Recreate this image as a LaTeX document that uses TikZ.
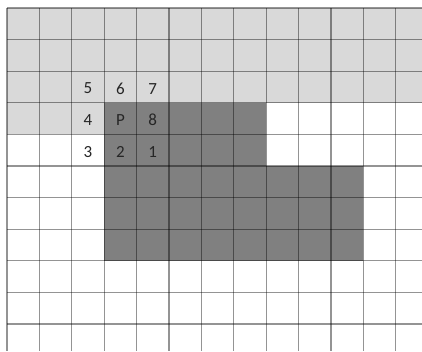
\documentclass[tikz,border=0pt]{standalone}
\usepackage{fontspec}
\setmainfont{Carlito}
\definecolor{lightcell}{HTML}{D9D9D9}
\definecolor{darkcell}{HTML}{808080}
\definecolor{numtext}{HTML}{262626}
\tikzset{
  cellnum/.style={font=\fontsize{17}{17}\selectfont, text=numtext, inner sep=0pt, anchor=center},
  gridline/.style={draw=black, draw opacity=0.42, line width=1.3pt}
}
\begin{document}
\begin{tikzpicture}[x=32.4pt, y=-31.6pt, shift={(7pt,-8pt)}]
  \useasboundingbox (-0.2160,-0.2532) rectangle (12.8086,10.8544);
  % fills
  \fill[lightcell] (0,0) rectangle (12.8086,3);
  \fill[lightcell] (0,3) rectangle (3,4);
  \fill[darkcell] (3,3) rectangle (8,5);
  \fill[darkcell] (3,5) rectangle (11,8);
  % grid
  \foreach \c in {0,...,12} {
    \draw[gridline] (\c,0) -- (\c,10.8544);
  }
  \foreach \r in {0,...,10} {
    \draw[gridline] (0,\r) -- (12.8086,\r);
  }
  % numbers
  \node[cellnum] (n5) at (2.5,2.55) {5};
  \node[cellnum] (n6) at (3.5,2.55) {6};
  \node[cellnum] (n7) at (4.5,2.55) {7};
  \node[cellnum] (n4) at (2.5,3.55) {4};
  \node[cellnum] (nP) at (3.5,3.55) {P};
  \node[cellnum] (n8) at (4.5,3.55) {8};
  \node[cellnum] (n3) at (2.5,4.55) {3};
  \node[cellnum] (n2) at (3.5,4.55) {2};
  \node[cellnum] (n1) at (4.5,4.55) {1};
\end{tikzpicture}
\end{document}
